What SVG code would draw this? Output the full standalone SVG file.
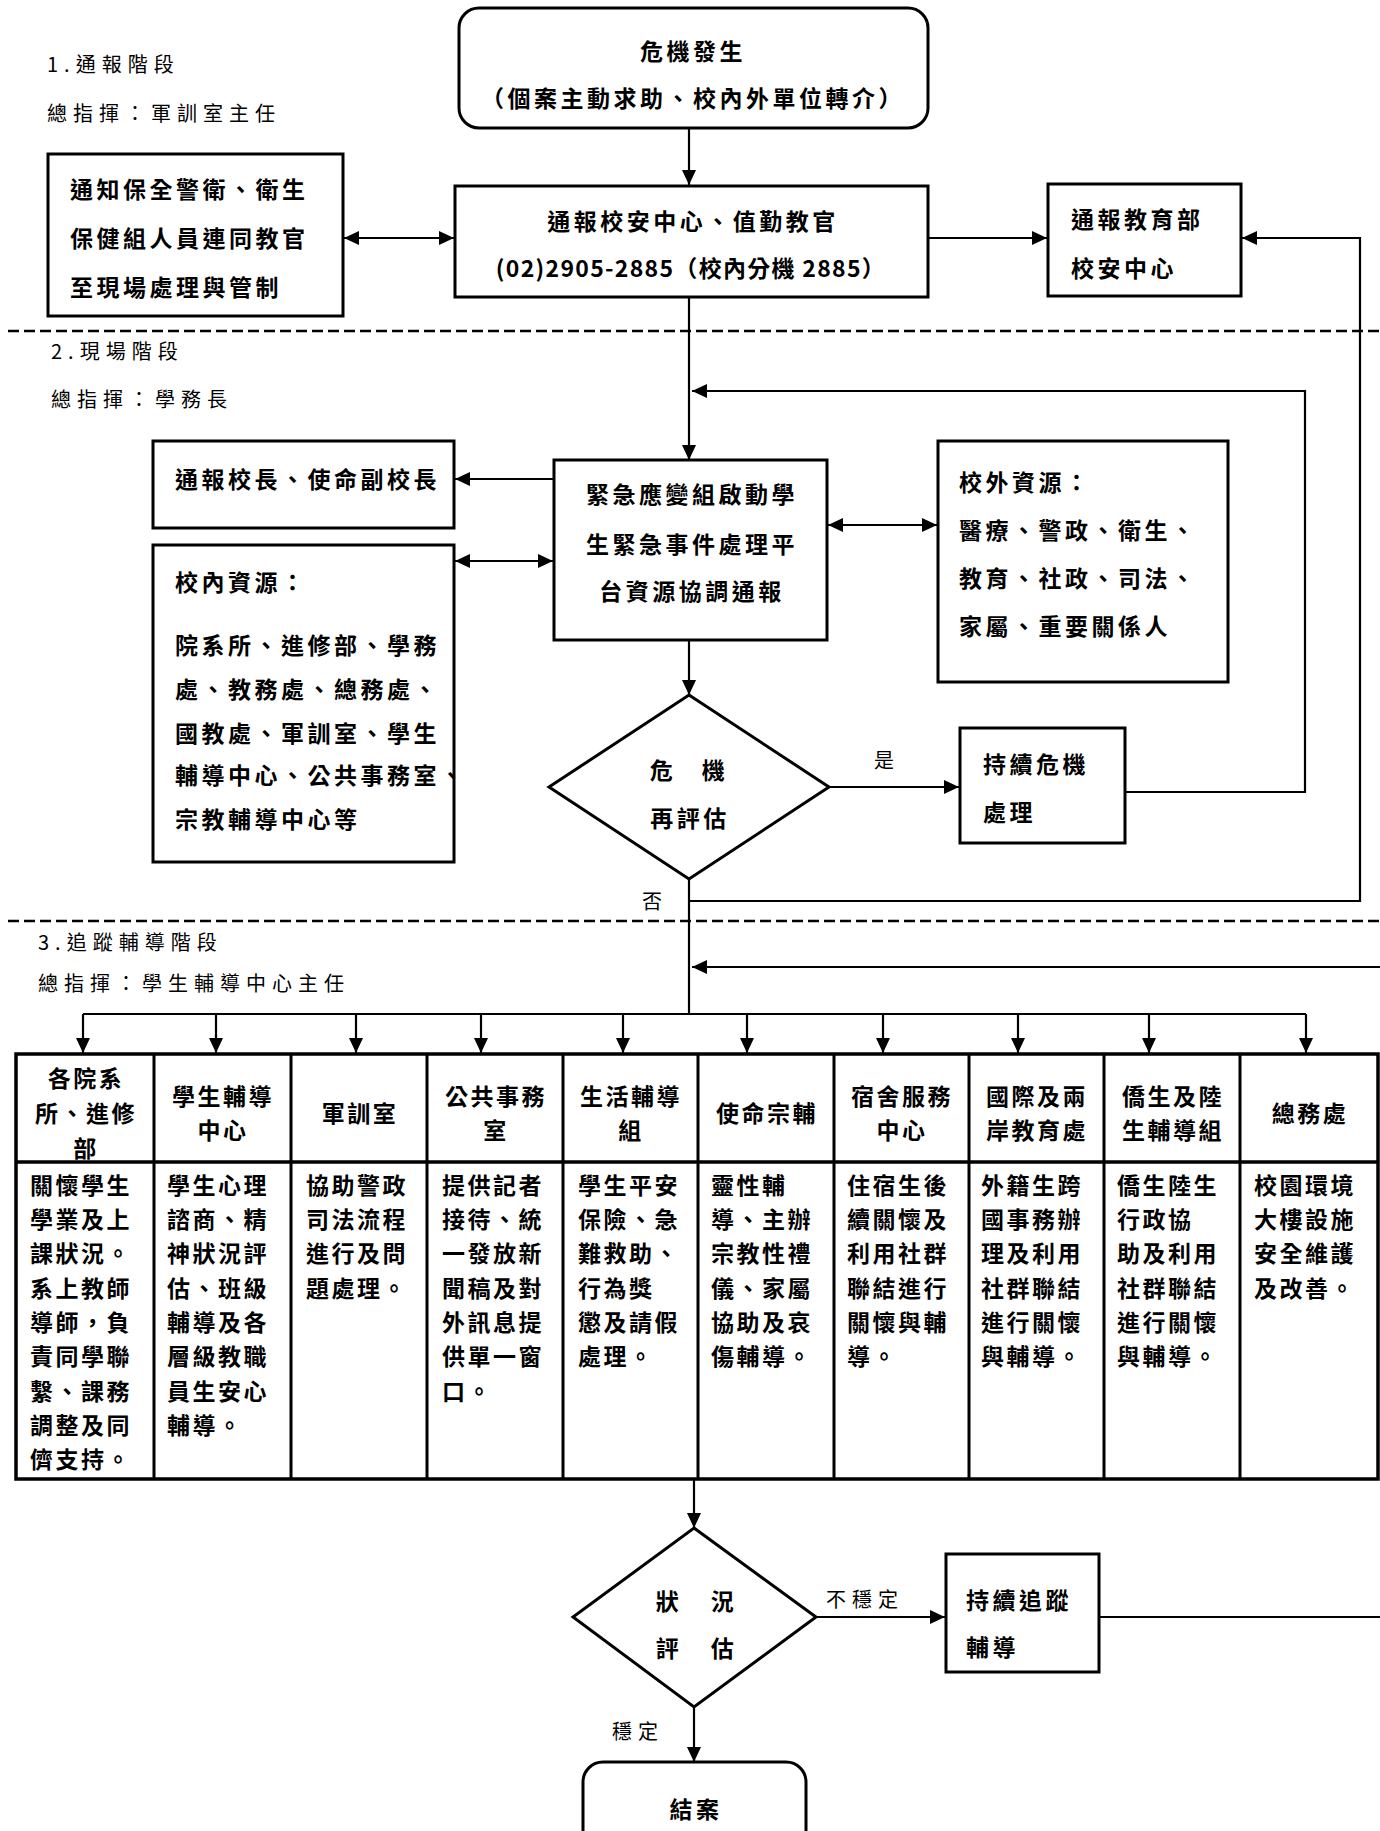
<svg xmlns="http://www.w3.org/2000/svg" width="1380" height="1831" viewBox="0 0 1380 1831">
<style>
.box{fill:#fff;stroke:#000;stroke-width:3}
.conn{fill:none;stroke:#000;stroke-width:2.2}
.dash{fill:none;stroke:#000;stroke-width:2.5;stroke-dasharray:11 5}
.b{font-family:"Noto Sans CJK TC","Noto Sans CJK SC",sans-serif;font-weight:700;font-size:23px;letter-spacing:3.5px;fill:#000;dominant-baseline:central}
.t{font-family:"Noto Sans CJK TC","Noto Sans CJK SC",sans-serif;font-weight:700;font-size:23px;letter-spacing:2.5px;fill:#000;dominant-baseline:central}
.l{font-family:"Noto Sans CJK TC","Noto Sans CJK SC",sans-serif;font-weight:400;font-size:20px;letter-spacing:6px;fill:#000;dominant-baseline:central}
.m{text-anchor:middle}
</style>
<defs>
<marker id="ah" viewBox="0 0 15 14" refX="15" refY="7" markerWidth="15" markerHeight="14" markerUnits="userSpaceOnUse" orient="auto-start-reverse">
<path d="M0,0 L15,7 L0,14 z" fill="#000"/>
</marker>
</defs>
<rect x="0" y="0" width="1380" height="1831" fill="#fff"/>

<g id="stage-labels">
<text class="l" x="47" y="63">1.通報階段</text>
<text class="l" x="47" y="112">總指揮：軍訓室主任</text>
<text class="l" x="51" y="350">2.現場階段</text>
<text class="l" x="51" y="398">總指揮：學務長</text>
<text class="l" x="38" y="941">3.追蹤輔導階段</text>
<text class="l" x="38" y="982">總指揮：學生輔導中心主任</text>
<line class="dash" x1="8" y1="331" x2="1380" y2="331"/>
<line class="dash" x1="8" y1="921" x2="1380" y2="921"/>
</g>

<g id="connectors">
<line class="conn" x1="689" y1="128" x2="689" y2="185" marker-end="url(#ah)"/>
<line class="conn" x1="344" y1="238" x2="454" y2="238" marker-start="url(#ah)" marker-end="url(#ah)"/>
<line class="conn" x1="928" y1="238" x2="1047" y2="238" marker-end="url(#ah)"/>
<polyline class="conn" points="689,901 1360,901 1360,238 1242,238" marker-end="url(#ah)"/>
<line class="conn" x1="689" y1="297" x2="689" y2="460" marker-end="url(#ah)"/>
<line class="conn" x1="554" y1="479" x2="455" y2="479" marker-end="url(#ah)"/>
<line class="conn" x1="455" y1="561" x2="553" y2="561" marker-start="url(#ah)" marker-end="url(#ah)"/>
<line class="conn" x1="828" y1="525" x2="937" y2="525" marker-start="url(#ah)" marker-end="url(#ah)"/>
<line class="conn" x1="689" y1="640" x2="689" y2="695" marker-end="url(#ah)"/>
<line class="conn" x1="829" y1="787" x2="959" y2="787" marker-end="url(#ah)"/>
<polyline class="conn" points="1125,792 1305,792 1305,391 692,391" marker-end="url(#ah)"/>
<line class="conn" x1="689" y1="879" x2="689" y2="1014"/>
<line class="conn" x1="1380" y1="967" x2="692" y2="967" marker-end="url(#ah)"/>
<line class="conn" x1="83" y1="1014" x2="1306" y2="1014"/>
<line class="conn" x1="83" y1="1014" x2="83" y2="1053" marker-end="url(#ah)"/>
<line class="conn" x1="216" y1="1014" x2="216" y2="1053" marker-end="url(#ah)"/>
<line class="conn" x1="356" y1="1014" x2="356" y2="1053" marker-end="url(#ah)"/>
<line class="conn" x1="481" y1="1014" x2="481" y2="1053" marker-end="url(#ah)"/>
<line class="conn" x1="623" y1="1014" x2="623" y2="1053" marker-end="url(#ah)"/>
<line class="conn" x1="747" y1="1014" x2="747" y2="1053" marker-end="url(#ah)"/>
<line class="conn" x1="883" y1="1014" x2="883" y2="1053" marker-end="url(#ah)"/>
<line class="conn" x1="1018" y1="1014" x2="1018" y2="1053" marker-end="url(#ah)"/>
<line class="conn" x1="1149" y1="1014" x2="1149" y2="1053" marker-end="url(#ah)"/>
<line class="conn" x1="1306" y1="1014" x2="1306" y2="1053" marker-end="url(#ah)"/>
<line class="conn" x1="694" y1="1480" x2="694" y2="1528" marker-end="url(#ah)"/>
<line class="conn" x1="816" y1="1617" x2="945" y2="1617" marker-end="url(#ah)"/>
<line class="conn" x1="1099" y1="1617" x2="1380" y2="1617"/>
<line class="conn" x1="694" y1="1707" x2="694" y2="1762" marker-end="url(#ah)"/>
<text class="l" x="874" y="759">是</text>
<text class="l" x="642" y="900">否</text>
<text class="l" x="826" y="1598">不穩定</text>
<text class="l" x="612" y="1730">穩定</text>
</g>

<g id="n-crisis">
<rect class="box" x="459" y="8" width="469" height="120" rx="20"/>
<text class="b m" x="693" y="50">危機發生</text>
<text class="b m" x="693" y="97">（個案主動求助、校內外單位轉介）</text>
</g>

<g id="n-security">
<rect class="box" x="48" y="154" width="295" height="162"/>
<text class="b" x="70" y="188">通知保全警衛、衛生</text>
<text class="b" x="70" y="237">保健組人員連同教官</text>
<text class="b" x="70" y="286">至現場處理與管制</text>
</g>

<g id="n-report">
<rect class="box" x="455" y="186" width="473" height="111"/>
<text class="b m" x="693" y="220">通報校安中心、值勤教官</text>
<text class="b m" x="691" y="267" style="letter-spacing:1.3px">(02)2905-2885（校內分機 2885）</text>
</g>

<g id="n-moe">
<rect class="box" x="1048" y="184" width="193" height="112"/>
<text class="b" x="1071" y="218">通報教育部</text>
<text class="b" x="1071" y="267">校安中心</text>
</g>

<g id="n-president">
<rect class="box" x="153" y="441" width="301" height="87"/>
<text class="b" x="175" y="478">通報校長、使命副校長</text>
</g>

<g id="n-inner">
<rect class="box" x="153" y="545" width="301" height="317"/>
<text class="b" x="175" y="581">校內資源：</text>
<text class="b" x="175" y="644">院系所、進修部、學務</text>
<text class="b" x="175" y="688">處、教務處、總務處、</text>
<text class="b" x="175" y="732">國教處、軍訓室、學生</text>
<text class="b" x="175" y="774">輔導中心、公共事務室、</text>
<text class="b" x="175" y="818">宗教輔導中心等</text>
</g>

<g id="n-emergency">
<rect class="box" x="554" y="460" width="273" height="180"/>
<text class="b m" x="692" y="493">緊急應變組啟動學</text>
<text class="b m" x="692" y="543">生緊急事件處理平</text>
<text class="b m" x="692" y="590">台資源協調通報</text>
</g>

<g id="n-outer">
<rect class="box" x="938" y="441" width="290" height="241"/>
<text class="b" x="959" y="481">校外資源：</text>
<text class="b" x="959" y="529">醫療、警政、衛生、</text>
<text class="b" x="959" y="577">教育、社政、司法、</text>
<text class="b" x="959" y="625">家屬、重要關係人</text>
</g>

<g id="n-reassess">
<polygon class="box" points="689,695 829,787 689,879 549,787"/>
<text class="b m" x="663" y="769">危</text>
<text class="b m" x="715" y="769">機</text>
<text class="b m" x="690" y="817">再評估</text>
</g>

<g id="n-continue-crisis">
<rect class="box" x="960" y="728" width="165" height="115"/>
<text class="b" x="983" y="763">持續危機</text>
<text class="b" x="983" y="811">處理</text>
</g>

<g id="n-table">
<rect x="16" y="1054" width="1362" height="425" fill="#fff" stroke="#000" stroke-width="3.5"/>
<line x1="16" y1="1162" x2="1378" y2="1162" stroke="#000" stroke-width="3.5"/>
<g stroke="#000" stroke-width="3">
<line x1="154" y1="1054" x2="154" y2="1479"/>
<line x1="291" y1="1054" x2="291" y2="1479"/>
<line x1="427" y1="1054" x2="427" y2="1479"/>
<line x1="563" y1="1054" x2="563" y2="1479"/>
<line x1="698" y1="1054" x2="698" y2="1479"/>
<line x1="834" y1="1054" x2="834" y2="1479"/>
<line x1="969" y1="1054" x2="969" y2="1479"/>
<line x1="1104" y1="1054" x2="1104" y2="1479"/>
<line x1="1240" y1="1054" x2="1240" y2="1479"/>
</g>
</g>

<g id="n-col1">
<text class="t m" x="86" y="1077">各院系</text>
<text class="t m" x="86" y="1112">所、進修</text>
<text class="t m" x="86" y="1147">部</text>
<text class="t" x="30" y="1184">關懷學生</text>
<text class="t" x="30" y="1218">學業及上</text>
<text class="t" x="30" y="1252">課狀況。</text>
<text class="t" x="30" y="1287">系上教師</text>
<text class="t" x="30" y="1321">導師，負</text>
<text class="t" x="30" y="1355">責同學聯</text>
<text class="t" x="30" y="1390">繫、課務</text>
<text class="t" x="30" y="1424">調整及同</text>
<text class="t" x="30" y="1458">儕支持。</text>
</g>
<g id="n-col2">
<text class="t m" x="223" y="1095">學生輔導</text>
<text class="t m" x="223" y="1129">中心</text>
<text class="t" x="167" y="1184">學生心理</text>
<text class="t" x="167" y="1218">諮商、精</text>
<text class="t" x="167" y="1252">神狀況評</text>
<text class="t" x="167" y="1287">估、班級</text>
<text class="t" x="167" y="1321">輔導及各</text>
<text class="t" x="167" y="1355">層級教職</text>
<text class="t" x="167" y="1390">員生安心</text>
<text class="t" x="167" y="1424">輔導。</text>
</g>
<g id="n-col3">
<text class="t m" x="360" y="1112">軍訓室</text>
<text class="t" x="306" y="1184">協助警政</text>
<text class="t" x="306" y="1218">司法流程</text>
<text class="t" x="306" y="1252">進行及問</text>
<text class="t" x="306" y="1287">題處理。</text>
</g>
<g id="n-col4">
<text class="t m" x="496" y="1095">公共事務</text>
<text class="t m" x="496" y="1129">室</text>
<text class="t" x="442" y="1184">提供記者</text>
<text class="t" x="442" y="1218">接待、統</text>
<text class="t" x="442" y="1252">一發放新</text>
<text class="t" x="442" y="1287">聞稿及對</text>
<text class="t" x="442" y="1321">外訊息提</text>
<text class="t" x="442" y="1355">供單一窗</text>
<text class="t" x="442" y="1390">口。</text>
</g>
<g id="n-col5">
<text class="t m" x="631" y="1095">生活輔導</text>
<text class="t m" x="631" y="1129">組</text>
<text class="t" x="578" y="1184">學生平安</text>
<text class="t" x="578" y="1218">保險、急</text>
<text class="t" x="578" y="1252">難救助、</text>
<text class="t" x="578" y="1287">行為獎</text>
<text class="t" x="578" y="1321">懲及請假</text>
<text class="t" x="578" y="1355">處理。</text>
</g>
<g id="n-col6">
<text class="t m" x="767" y="1112">使命宗輔</text>
<text class="t" x="711" y="1184">靈性輔</text>
<text class="t" x="711" y="1218">導、主辦</text>
<text class="t" x="711" y="1252">宗教性禮</text>
<text class="t" x="711" y="1287">儀、家屬</text>
<text class="t" x="711" y="1321">協助及哀</text>
<text class="t" x="711" y="1355">傷輔導。</text>
</g>
<g id="n-col7">
<text class="t m" x="902" y="1095">宿舍服務</text>
<text class="t m" x="902" y="1129">中心</text>
<text class="t" x="847" y="1184">住宿生後</text>
<text class="t" x="847" y="1218">續關懷及</text>
<text class="t" x="847" y="1252">利用社群</text>
<text class="t" x="847" y="1287">聯結進行</text>
<text class="t" x="847" y="1321">關懷與輔</text>
<text class="t" x="847" y="1355">導。</text>
</g>
<g id="n-col8">
<text class="t m" x="1037" y="1095">國際及兩</text>
<text class="t m" x="1037" y="1129">岸教育處</text>
<text class="t" x="981" y="1184">外籍生跨</text>
<text class="t" x="981" y="1218">國事務辦</text>
<text class="t" x="981" y="1252">理及利用</text>
<text class="t" x="981" y="1287">社群聯結</text>
<text class="t" x="981" y="1321">進行關懷</text>
<text class="t" x="981" y="1355">與輔導。</text>
</g>
<g id="n-col9">
<text class="t m" x="1173" y="1095">僑生及陸</text>
<text class="t m" x="1173" y="1129">生輔導組</text>
<text class="t" x="1117" y="1184">僑生陸生</text>
<text class="t" x="1117" y="1218">行政協</text>
<text class="t" x="1117" y="1252">助及利用</text>
<text class="t" x="1117" y="1287">社群聯結</text>
<text class="t" x="1117" y="1321">進行關懷</text>
<text class="t" x="1117" y="1355">與輔導。</text>
</g>
<g id="n-col10">
<text class="t m" x="1310" y="1112">總務處</text>
<text class="t" x="1254" y="1184">校園環境</text>
<text class="t" x="1254" y="1218">大樓設施</text>
<text class="t" x="1254" y="1252">安全維護</text>
<text class="t" x="1254" y="1287">及改善。</text>
</g>

<g id="n-assess">
<polygon class="box" points="694,1528 816,1617 694,1707 573,1617"/>
<text class="b m" x="669" y="1600">狀</text>
<text class="b m" x="724" y="1600">況</text>
<text class="b m" x="669" y="1647">評</text>
<text class="b m" x="724" y="1647">估</text>
</g>

<g id="n-followup">
<rect class="box" x="946" y="1554" width="153" height="118"/>
<text class="b" x="966" y="1599">持續追蹤</text>
<text class="b" x="966" y="1646">輔導</text>
</g>

<g id="n-close">
<rect class="box" x="583" y="1762" width="223" height="100" rx="20"/>
<text class="b m" x="696" y="1808">結案</text>
</g>
</svg>
